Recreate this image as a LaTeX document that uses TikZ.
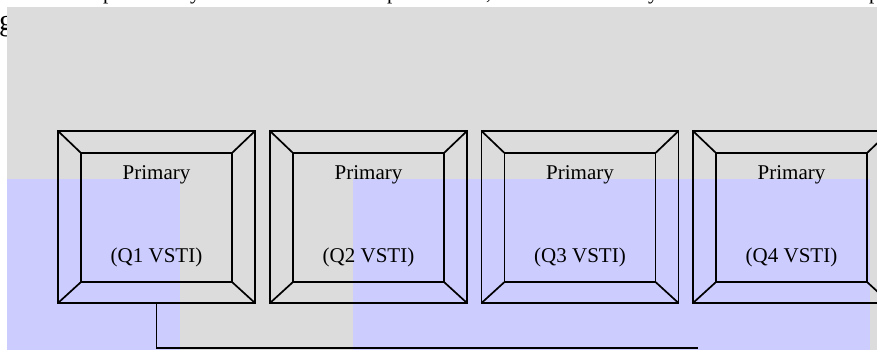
\documentclass[tikz,border=0pt]{standalone}
\usepackage{fontspec}
\setmainfont{Liberation Serif}
\usetikzlibrary{calc}
\definecolor{bggray}{RGB}{220,220,220}
\definecolor{bgblue}{RGB}{204,204,255}
\tikzset{
  frame/.style={draw=black, line width=1.7pt, minimum width=197pt, minimum height=172pt, inner sep=0pt, outer sep=0pt},
  bevel/.style={draw=black, line width=1.7pt},
  label/.style={inner sep=0pt, font=\fontsize{21}{25}\selectfont},
  frag/.style={inner sep=0pt, anchor=base west, font=\fontsize{21}{25}\selectfont},
  wire/.style={draw=black, line width=1.7pt}
}
\begin{document}
\begin{tikzpicture}[x=1pt,y=-1pt]
\useasboundingbox (0,0) rectangle (877,350);
% clipped text fragments above and left of the panel
\node[frag] (f1) at (103,-0.5) {p};
\node[frag] (f2) at (190,-0.5) {y};
\node[frag] (f3) at (387,-0.5) {p};
\node[frag] (f4) at (486,-0.5) {,};
\node[frag] (f5) at (648,-0.5) {y};
\node[frag] (f6) at (869,-0.5) {p};
\node[inner sep=0pt, anchor=base west, font=\fontsize{30}{34}\selectfont] (g) at (-1,31) {g};
% backgrounds
\fill[bggray] (7,7) rectangle (877,350);
\fill[bgblue] (7,179) rectangle (180,350);
\fill[bgblue] (353,179) rectangle (870,350);
% frames
\foreach \cx/\q [count=\i] in {156.5/Q1, 368.5/Q2, 580/Q3, 791.5/Q4}{
  \node[frame] (b\i) at (\cx,217) {};
  \coordinate (i\i nw) at ($(b\i.north west)+(23,22)$);
  \coordinate (i\i ne) at ($(b\i.north east)+(-23,22)$);
  \coordinate (i\i sw) at ($(b\i.south west)+(23,-21)$);
  \coordinate (i\i se) at ($(b\i.south east)+(-23,-21)$);
  \draw[bevel] (i\i nw) -- (i\i ne) -- (i\i se) -- (i\i sw) -- cycle;
  \draw[bevel] (b\i.north west) -- (i\i nw);
  \draw[bevel] (b\i.north east) -- (i\i ne);
  \draw[bevel] (b\i.south west) -- (i\i sw);
  \draw[bevel] (b\i.south east) -- (i\i se);
  \node[label] (p\i) at (\cx,175) {Primary};
  \node[label] (v\i) at (\cx,257) {(\q{} VSTI)};
}
% connector
\coordinate (end) at (698,348);
\draw[wire] (b1.south) |- (end);
\end{tikzpicture}
\end{document}
